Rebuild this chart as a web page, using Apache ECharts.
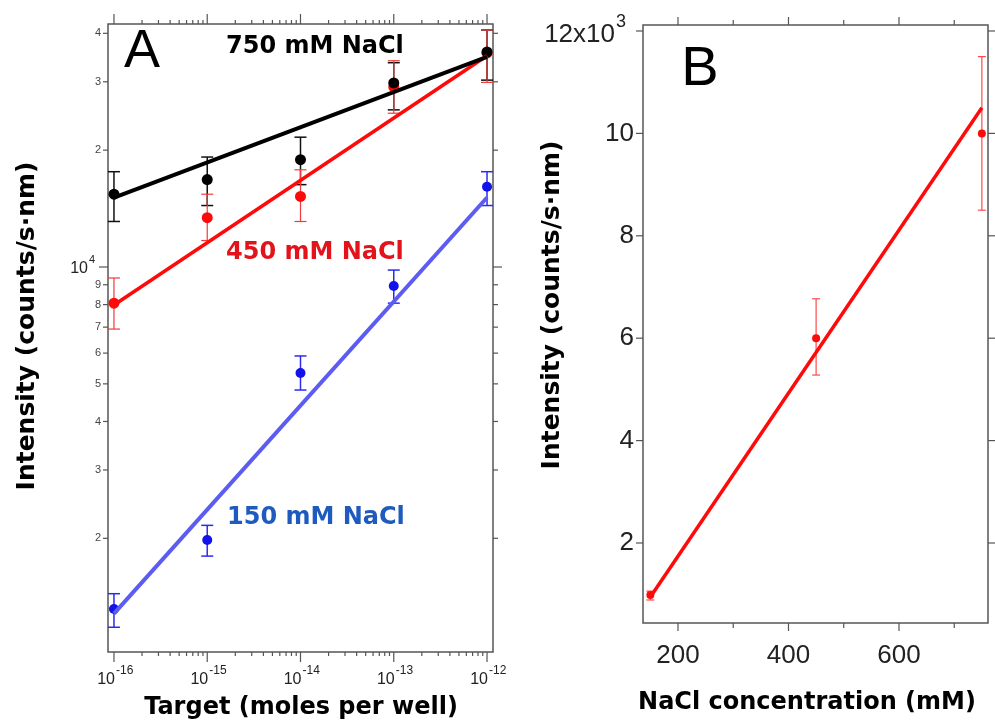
<!DOCTYPE html>
<html><head><meta charset="utf-8">
<script src="https://cdn.jsdelivr.net/npm/echarts@6/dist/echarts.min.js"></script>
<style>html,body{margin:0;padding:0;background:#fff}#c{width:995px;height:726px}</style>
</head><body><div id="c"></div><script>
// ---------- Panel A data ----------
const targetMoles = [1e-16, 1e-15, 1e-14, 1e-13, 1e-12];
const nacl750 = [15400, 16800, 18900, 29800, 35800];
const nacl750Low = [13100, 14400, 16300, 25400, 30300];
const nacl750High = [17600, 19200, 21600, 33600, 40800];
const nacl450 = [8070, 13400, 15200, 29100, 35600];
const nacl450Low = [6920, 11700, 13100, 24900, 29900];
const nacl450High = [9370, 15400, 17800, 34000, 40800];
const nacl150 = [1315, 1980, 5330, 8930, 16100];
const nacl150Low = [1180, 1800, 4820, 8070, 14400];
const nacl150High = [1440, 2160, 5900, 9820, 17600];
const fitTarget = [1e-16, 1e-12];
const fit750 = [15100, 34800];
const fit450 = [7980, 35000];
const fit150 = [1280, 15100];
// ---------- Panel B data ----------
const naclConc = [150, 450, 750];
const intensityB = [984, 6000, 10000];
const intensityBLow = [887, 5280, 8500];
const intensityBHigh = [1060, 6770, 11500];
const fitConc = [150, 750];
const fitB = [945, 10500];
// ---------- ticks ----------
const xTicksA = [1e-16, 1e-15, 1e-14, 1e-13, 1e-12];
const xTickExpA = ['-16', '-15', '-14', '-13', '-12'];
const yTicksA = [2000, 3000, 4000, 5000, 6000, 7000, 8000, 9000, 10000, 20000, 30000, 40000];
const yTickLabelsA = ['2', '3', '4', '5', '6', '7', '8', '9', '10', '2', '3', '4'];
const yTickSupA = ['', '', '', '', '', '', '', '', '4', '', '', ''];
const xTicksB = [200, 300, 400, 500, 600, 700];
const xTickLabelsB = ['200', '', '400', '', '600', ''];
const yTicksB = [2000, 4000, 6000, 8000, 10000, 12000];
const yTickLabelsB = ['2', '4', '6', '8', '10', '12x10'];
const yTickSupB = ['', '', '', '', '', '3'];
// axis ranges
const xRangeA = [8.63e-17, 1.159e-12];
const yRangeA = [1019, 42270];
const xRangeB = [136.7, 761.1];
const yRangeB = [437.5, 12117];

const xMinorA = [];
for (let e = -16; e <= -13; e++) for (let m = 2; m <= 9; m++) xMinorA.push(m * Math.pow(10, e));

const zip = (a, b) => a.map((v, i) => [v, b[i]]);
const FRAME = '#555';
const LBL = '#333';
function seg(x1, y1, x2, y2, color, w) {
  return { type: 'line', shape: { x1, y1, x2, y2 }, style: { stroke: color, lineWidth: w } };
}
function txt(s, x, y, font, align, valign, color) {
  return { type: 'text', style: { text: s, x, y, font, textAlign: align, textVerticalAlign: valign, fill: color || LBL } };
}
function tickSeries(gi, dim, values, ref, draw) {
  return {
    type: 'custom', xAxisIndex: gi, yAxisIndex: gi, clip: false, silent: true, z: 10,
    data: values.map(v => dim === 'x' ? [v, ref] : [ref, v]),
    encode: { x: 0, y: 1 },
    renderItem: function (params, api) {
      const cs = params.coordSys;
      const p = api.coord([api.value(0), api.value(1)]);
      return { type: 'group', children: draw(params.dataIndex, dim === 'x' ? p[0] : p[1], cs) };
    }
  };
}
function errorSeries(gi, xs, lows, highs, color, w, cap) {
  return {
    type: 'custom', xAxisIndex: gi, yAxisIndex: gi, silent: true, z: 3,
    data: xs.map((x, i) => [x, lows[i], highs[i]]),
    encode: { x: 0, y: [1, 2] },
    renderItem: function (params, api) {
      const lo = api.coord([api.value(0), api.value(1)]);
      const hi = api.coord([api.value(0), api.value(2)]);
      return { type: 'group', children: [
        seg(lo[0], lo[1], hi[0], hi[1], color, w),
        seg(lo[0] - cap, lo[1], lo[0] + cap, lo[1], color, w),
        seg(hi[0] - cap, hi[1], hi[0] + cap, hi[1], color, w)
      ] };
    }
  };
}
function scatter(gi, xs, ys, color, size) {
  return { type: 'scatter', xAxisIndex: gi, yAxisIndex: gi, data: zip(xs, ys), symbolSize: size,
    itemStyle: { color: color, opacity: 1 }, z: 4, silent: true };
}
function fitLine(gi, xs, ys, color, w) {
  return { type: 'line', xAxisIndex: gi, yAxisIndex: gi, data: zip(xs, ys), showSymbol: false,
    lineStyle: { color: color, width: w }, z: 5, silent: true };
}
const hiddenAxis = { axisLine: { show: false }, axisTick: { show: false }, axisLabel: { show: false }, splitLine: { show: false } };

const chart = echarts.init(document.getElementById('c'), null, { renderer: 'canvas' });
const option = {
  animation: false,
  backgroundColor: '#fff',
  grid: [
    { left: 108, top: 24, width: 385, height: 628, show: true, borderColor: FRAME, borderWidth: 1.5, backgroundColor: 'transparent' },
    { left: 643, top: 25, width: 345, height: 598, show: true, borderColor: FRAME, borderWidth: 1.5, backgroundColor: 'transparent' }
  ],
  xAxis: [
    Object.assign({ type: 'log', logBase: 10, gridIndex: 0, min: xRangeA[0], max: xRangeA[1] }, hiddenAxis),
    Object.assign({ type: 'value', gridIndex: 1, min: xRangeB[0], max: xRangeB[1] }, hiddenAxis)
  ],
  yAxis: [
    Object.assign({ type: 'log', logBase: 10, gridIndex: 0, min: yRangeA[0], max: yRangeA[1] }, hiddenAxis),
    Object.assign({ type: 'value', gridIndex: 1, min: yRangeB[0], max: yRangeB[1] }, hiddenAxis)
  ],
  series: [
    // Panel A ticks
    tickSeries(0, 'x', xTicksA, yRangeA[0], function (i, px, cs) {
      const B = cs.y + cs.height, T = cs.y;
      return [seg(px, B, px, B + 10, FRAME, 1.2), seg(px, T, px, T - 10, FRAME, 1.2),
        txt('10', px + 1, 680, '16px "Liberation Sans"', 'right', 'middle', '#222'),
        txt(xTickExpA[i], px + 2, 671, '12px "Liberation Sans"', 'left', 'middle', '#222')];
    }),
    tickSeries(0, 'x', xMinorA, yRangeA[0], function (i, px, cs) {
      const B = cs.y + cs.height, T = cs.y;
      return [seg(px, B, px, B + 4, FRAME, 1.2), seg(px, T, px, T - 4, FRAME, 1.2)];
    }),
    tickSeries(0, 'y', yTicksA, xRangeA[0], function (i, py, cs) {
      const L = cs.x, R = cs.x + cs.width;
      const big = yTickSupA[i] !== '';
      const len = big ? 9 : 5;
      const out = [seg(L - len, py, L, py, FRAME, 1.2), seg(R, py, R + len, py, FRAME, 1.2)];
      if (big) {
        out.push(txt(yTickLabelsA[i], L - 20, py + 2, '16px "Liberation Sans"', 'right', 'middle', '#222'));
        out.push(txt(yTickSupA[i], L - 19, py - 7, '11px "Liberation Sans"', 'left', 'middle', '#222'));
      } else {
        out.push(txt(yTickLabelsA[i], L - 7, py, '11px "Liberation Sans"', 'right', 'middle', '#444'));
      }
      return out;
    }),
    // Panel B ticks
    tickSeries(1, 'x', xTicksB, yRangeB[0], function (i, px, cs) {
      const B = cs.y + cs.height, T = cs.y;
      const len = xTickLabelsB[i] ? 8 : 5;
      const out = [seg(px, B, px, B + len, FRAME, 1.2), seg(px, T, px, T - len, FRAME, 1.2)];
      if (xTickLabelsB[i]) out.push(txt(xTickLabelsB[i], px, 656, '26px "Liberation Sans"', 'center', 'middle', '#222'));
      return out;
    }),
    tickSeries(1, 'y', yTicksB, xRangeB[0], function (i, py, cs) {
      const L = cs.x, R = cs.x + cs.width;
      const out = [seg(L - 7, py, L, py, FRAME, 1.2), seg(R, py, R + 7, py, FRAME, 1.2)];
      if (yTickSupB[i]) {
        out.push(txt(yTickLabelsB[i], L - 28, py + 4, '26px "Liberation Sans"', 'right', 'middle', '#222'));
        out.push(txt(yTickSupB[i], L - 27, py - 9, '18px "Liberation Sans"', 'left', 'middle', '#222'));
      } else {
        out.push(txt(yTickLabelsB[i], L - 9, py, '26px "Liberation Sans"', 'right', 'middle', '#222'));
      }
      return out;
    }),
    // Panel A data
    errorSeries(0, targetMoles, nacl750Low, nacl750High, '#111', 1.5, 6),
    errorSeries(0, targetMoles, nacl450Low, nacl450High, '#f03a3a', 1.2, 6),
    errorSeries(0, targetMoles, nacl150Low, nacl150High, '#2b2bf0', 1.5, 6),
    fitLine(0, fitTarget, fit150, '#5c5cf2', 4),
    fitLine(0, fitTarget, fit450, '#ff0a0a', 3.5),
    fitLine(0, fitTarget, fit750, '#000', 4),
    scatter(0, targetMoles, nacl150, '#1212ea', 10),
    scatter(0, targetMoles, nacl450, '#ff0a0a', 11),
    scatter(0, targetMoles, nacl750, '#000', 11),
    // Panel B data
    errorSeries(1, naclConc, intensityBLow, intensityBHigh, '#ff4a4a', 1.2, 4),
    fitLine(1, fitConc, fitB, '#ff0a0a', 3.5),
    scatter(1, naclConc, intensityB, '#ff0a0a', 8)
  ],
  graphic: [
    { type: 'text', x: 142, y: 52, style: { text: 'A', font: '54px "Liberation Sans"', textAlign: 'center', textVerticalAlign: 'middle', fill: '#000' } },
    { type: 'text', x: 700, y: 70, style: { text: 'B', font: '56px "Liberation Sans"', textAlign: 'center', textVerticalAlign: 'middle', fill: '#000' } },
    { type: 'text', x: 226, y: 47, style: { text: '750 mM NaCl', font: 'bold 24px "DejaVu Sans"', textAlign: 'left', textVerticalAlign: 'middle', fill: '#000' } },
    { type: 'text', x: 226, y: 253, style: { text: '450 mM NaCl', font: 'bold 24px "DejaVu Sans"', textAlign: 'left', textVerticalAlign: 'middle', fill: '#e3131b' } },
    { type: 'text', x: 227, y: 518, style: { text: '150 mM NaCl', font: 'bold 24px "DejaVu Sans"', textAlign: 'left', textVerticalAlign: 'middle', fill: '#1f5bbf' } },
    { type: 'text', x: 27, y: 326, rotation: Math.PI / 2, style: { text: 'Intensity (counts/s·nm)', font: 'bold 25px "DejaVu Sans"', textAlign: 'center', textVerticalAlign: 'middle', fill: '#000' } },
    { type: 'text', x: 301, y: 708, style: { text: 'Target (moles per well)', font: 'bold 24px "DejaVu Sans"', textAlign: 'center', textVerticalAlign: 'middle', fill: '#000' } },
    { type: 'text', x: 552, y: 305, rotation: Math.PI / 2, style: { text: 'Intensity (counts/s·nm)', font: 'bold 25px "DejaVu Sans"', textAlign: 'center', textVerticalAlign: 'middle', fill: '#000' } },
    { type: 'text', x: 807, y: 703, style: { text: 'NaCl concentration (mM)', font: 'bold 24px "DejaVu Sans"', textAlign: 'center', textVerticalAlign: 'middle', fill: '#000' } }
  ]
};
chart.setOption(option);
</script></body></html>
